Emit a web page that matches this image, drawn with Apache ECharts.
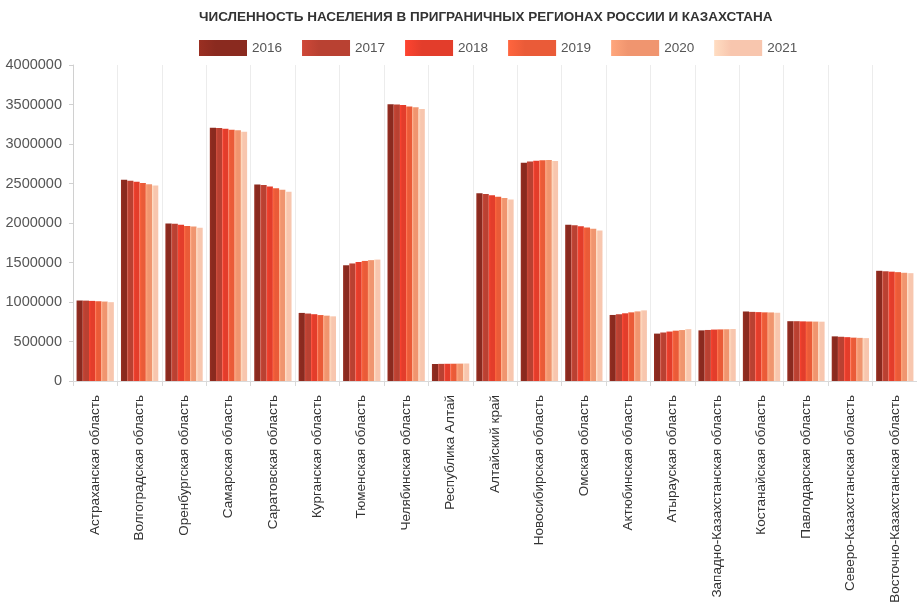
<!DOCTYPE html>
<html>
<head>
<meta charset="utf-8">
<script src="https://cdn.jsdelivr.net/npm/echarts@6/dist/echarts.min.js"></script>
<style>html,body{margin:0;padding:0;background:#fff}#c{width:917px;height:607px}</style>
</head>
<body>
<div id="c"></div>
<script>
const categories = ["Астраханская область","Волгоградская область","Оренбургская область","Самарская область","Саратовская область","Курганская область","Тюменская область","Челябинская область","Республика Алтай","Алтайский край","Новосибирская область","Омская область","Актюбинская область","Атырауская область","Западно-Казахстанская область","Костанайская область","Павлодарская область","Северо-Казахстанская область","Восточно-Казахстанская область"];
const years = ["2016","2017","2018","2019","2020","2021"];
const v2016 = [1018866,2545937,1994762,3206916,2487758,861896,1465000,3502323,215160,2376774,2762237,1978183,836000,600000,641000,880000,757000,565000,1395000];
const v2017 = [1017514,2535202,1989589,3203679,2479879,854109,1488000,3500716,217007,2365680,2779555,1972682,845000,614000,646000,875000,757000,560000,1389000];
const v2018 = [1014065,2521276,1977720,3193514,2462950,845537,1506000,3493036,218063,2350080,2788849,1960081,857000,626000,651000,872000,755000,555000,1384000];
const v2019 = [1009677,2507509,1962722,3179532,2440815,834701,1520000,3475753,218866,2332813,2793384,1944225,869000,637000,653000,869000,753000,549000,1378000];
const v2020 = [1005782,2491751,1956835,3172925,2421895,827166,1530000,3466369,220181,2317153,2798170,1926665,881000,645000,655000,868000,752000,546000,1370000];
const v2021 = [997778,2474556,1941000,3154164,2395111,818570,1537000,3442810,221642,2296353,2785836,1903675,894000,657000,658000,864000,751000,543000,1365000];
const yTicks = [0,500000,1000000,1500000,2000000,2500000,3000000,3500000,4000000];
const seriesValues = [v2016,v2017,v2018,v2019,v2020,v2021];
const colors = ["#8a2a1f","#b94132","#e33d2b","#ea5b38","#f0956f","#f8c6ae"];

const chart = echarts.init(document.getElementById('c'));
chart.setOption({
  animation:false,
  title:{text:"ЧИСЛЕННОСТЬ НАСЕЛЕНИЯ В ПРИГРАНИЧНЫХ РЕГИОНАХ РОССИИ И КАЗАХСТАНА",left:194,top:5,
    textStyle:{fontFamily:'Liberation Sans, Arial',fontSize:13.5,fontWeight:'bold',color:'#333'}},
  legend:{top:35,left:194,itemWidth:48,itemHeight:16,itemGap:20,icon:'rect',
    textStyle:{fontFamily:'Liberation Sans, Arial',fontSize:13.5,color:'#555'},data:years},
  grid:{left:73,right:0,top:65,bottom:226,containLabel:false},
  xAxis:{type:'category',data:categories,
    axisLine:{show:true,lineStyle:{color:'#d9d9d9'}},
    axisTick:{show:true,alignWithLabel:false,lineStyle:{color:'#d9d9d9'}},
    splitLine:{show:true,lineStyle:{color:'#ececec'}},
    axisLabel:{rotate:90,interval:0,margin:14,fontFamily:'Liberation Sans, Arial',fontSize:13.5,color:'#333'}},
  yAxis:{type:'value',min:0,max:4000000,interval:500000,
    axisLine:{show:true,lineStyle:{color:'#d0d0d0'}},
    axisTick:{show:true,length:4,lineStyle:{color:'#d0d0d0'}},
    splitLine:{show:false},
    axisLabel:{margin:11,fontFamily:'Liberation Sans, Arial',fontSize:14.5,color:'#555',
      formatter:v=>yTicks.includes(v)?String(v):''}},
  series:seriesValues.map((d,i)=>({name:years[i],type:'bar',data:d,barGap:'0%',barCategoryGap:'16%',
    itemStyle:{color:new echarts.graphic.LinearGradient(0,0,1,0,[{offset:0,color:echarts.color.lift(colors[i],-0.12)},{offset:0.35,color:colors[i]},{offset:1,color:colors[i]}])}}))
});
</script>
</body>
</html>
